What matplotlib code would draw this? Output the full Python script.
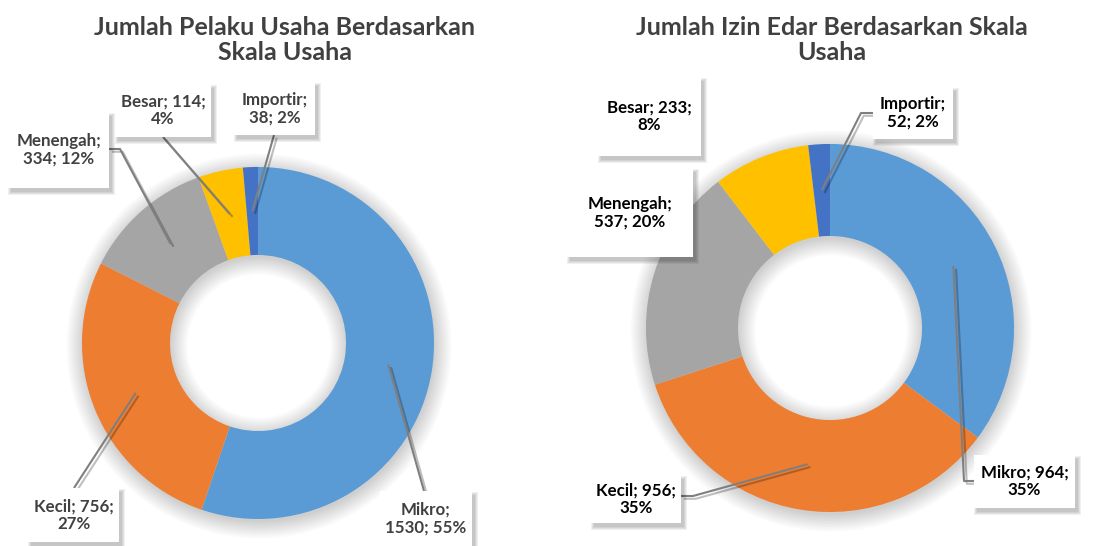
import matplotlib
matplotlib.use("Agg")
import matplotlib.pyplot as plt
import matplotlib.patheffects as pe
from matplotlib.patches import Wedge, Rectangle
import numpy as np

W, H = 1105, 546

# --- data --------------------------------------------------------------------
CATS   = ["Mikro", "Kecil", "Menengah", "Besar", "Importir"]
COLORS = ["#5B9BD5", "#ED7D31", "#A5A5A5", "#FFC000", "#4472C4"]

PELAKU_TITLE = "Jumlah Pelaku Usaha Berdasarkan\nSkala Usaha"
PELAKU_VALS  = [1530, 756, 334, 114, 38]
PELAKU_PCT   = ["55%", "27%", "12%", "4%", "2%"]

IZIN_TITLE = "Jumlah Izin Edar Berdasarkan Skala\nUsaha"
IZIN_VALS  = [964, 956, 537, 233, 52]
IZIN_PCT   = ["35%", "35%", "20%", "8%", "2%"]

FONT = ["Lato", "DejaVu Sans"]
C_TITLE = "#404040"
C_LEAD  = "#7f7f7f"

# --- layout (pixels, origin top-left) -------------------------------------------
LEFT = dict(
    center=(258, 343), r=176, explode=[0.025, 0.025, 0.04, 0.02, 0.065],
    title_xy=(285, 40), text_color="#404040",
    boxes=[(380, 491, 472, 546), (28, 488, 119, 542), (8, 112, 109, 188),
           (115, 84, 211, 137), (234, 82, 315, 135)],
    split=[1, 2, 1, 2, 1],
    leaders=[[(424, 491)], [(74, 488)], [(109, 149), (120, 149)],
             [(163, 137)], [(274, 135)]],
)
RIGHT = dict(
    center=(830, 328), r=184, explode=[0.05, 0.025, 0.045, 0.06, 0.05],
    title_xy=(832, 40), text_color="#000000",
    boxes=[(974, 455, 1075, 508), (591, 475, 681, 523), (567, 168, 693, 257),
           (598, 77, 701, 156), (873, 87, 953, 139)],
    split=[2, 2, 1, 2, 1],
    leaders=[[(974, 481), (964, 481)], [(681, 496), (693, 496)], None, None,
             [(873, 113), (861, 113)]],
)


def P(x, y):
    return x, H - y


def ring_shadow(ax, cx, cy, ro, ri):
    for k in range(12):
        g = 1.5 * k
        ax.add_patch(Wedge((cx + 1, cy - 3), ro + g, 0, 360, width=ro - ri + 2 * g,
                           facecolor="black", edgecolor="none", alpha=0.014, zorder=1))


def box_shadow(ax, x0, y0, x1, y1):
    for k in range(4):
        g = k * 1.0
        ax.add_patch(Rectangle((x0 + 3 - g, H - y1 - 4 - g), (x1 - x0) + 2 * g, (y1 - y0) + 2 * g,
                               facecolor="black", edgecolor="none", alpha=0.06, zorder=4))


def draw_chart(ax, title, vals, pcts, lay):
    cx, cy = P(*lay["center"])
    ro = lay["r"]
    ring_shadow(ax, cx, cy, ro, ro * 0.5)
    wedges, _ = ax.pie(vals, explode=lay["explode"], radius=ro, center=(cx, cy),
                       startangle=90, counterclock=False, colors=COLORS,
                       wedgeprops=dict(width=ro * 0.5, edgecolor="none"))
    for w in wedges:
        w.set_zorder(2)

    ax.text(*P(*lay["title_xy"]), title, ha="center", va="center", fontsize=18,
            fontweight="bold", color=C_TITLE, family=FONT, linespacing=1.15, zorder=7)

    for i, w in enumerate(wedges):
        x0, y0, x1, y1 = lay["boxes"][i]
        box_shadow(ax, x0, y0, x1, y1)
        ax.add_patch(Rectangle((x0, H - y1), x1 - x0, y1 - y0, facecolor="white",
                               edgecolor="none", zorder=5))
        parts = [CATS[i] + ";", f"{vals[i]};", pcts[i]]
        s = lay["split"][i]
        label = " ".join(parts[:s]) + "\n" + " ".join(parts[s:])
        ax.text((x0 + x1) / 2, H - (y0 + y1) / 2, label, ha="center", va="center",
                fontsize=12.2, fontweight="bold", color=lay["text_color"], family=FONT,
                linespacing=1.1, zorder=6)

        pts = lay["leaders"][i]
        if pts is None:
            continue
        mid = np.deg2rad((w.theta1 + w.theta2) / 2)
        ax_, ay_ = w.center
        anchor = (ax_ + 0.75 * w.r * np.cos(mid), ay_ + 0.75 * w.r * np.sin(mid))
        xs = [p[0] for p in pts] + [anchor[0]]
        ys = [H - p[1] for p in pts] + [anchor[1]]
        ax.plot(xs, ys, color=C_LEAD, lw=1.5, zorder=3, solid_capstyle="butt",
                path_effects=[pe.SimpleLineShadow(offset=(2, -2), alpha=0.25), pe.Normal()])


fig = plt.figure(figsize=(W / 100, H / 100), dpi=100)
fig.patch.set_facecolor("white")
ax = fig.add_axes([0, 0, 1, 1])

draw_chart(ax, PELAKU_TITLE, PELAKU_VALS, PELAKU_PCT, LEFT)
draw_chart(ax, IZIN_TITLE, IZIN_VALS, IZIN_PCT, RIGHT)

ax.set_xlim(0, W)
ax.set_ylim(0, H)
ax.set_aspect("equal")
ax.set_axis_off()

fig.savefig("out.png", dpi=100, facecolor="white")
plt.close(fig)
